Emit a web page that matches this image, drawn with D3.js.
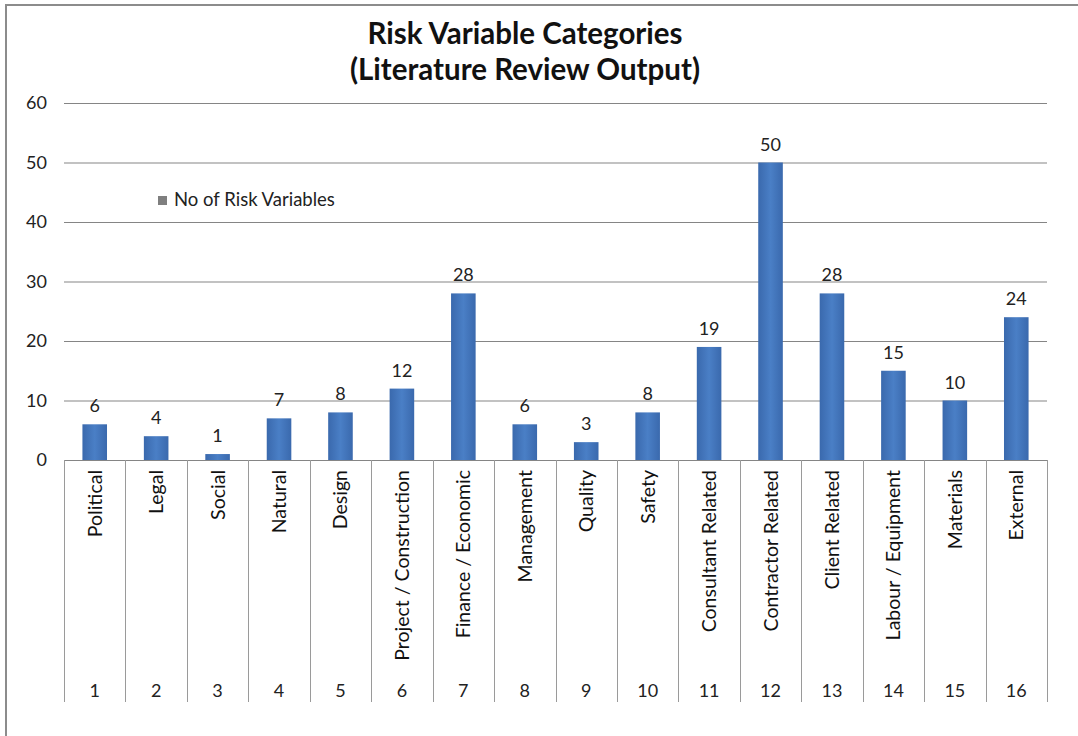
<!DOCTYPE html>
<html><head><meta charset="utf-8">
<script src="https://cdn.jsdelivr.net/npm/d3@7"></script>
<style>body{margin:0;background:#fff;} svg{display:block;}</style>
</head><body>
<svg id="c" width="1078" height="736"></svg>
<script>
const categories = ["Political","Legal","Social","Natural","Design","Project / Construction","Finance / Economic","Management","Quality","Safety","Consultant Related","Contractor Related","Client Related","Labour / Equipment","Materials","External"];
const indices = ["1","2","3","4","5","6","7","8","9","10","11","12","13","14","15","16"];
const values = [6,4,1,7,8,12,28,6,3,8,19,50,28,15,10,24];
const yTicks = [0,10,20,30,40,50,60];
const seriesName = "No of Risk Variables";
const titleLines = ["Risk Variable Categories","(Literature Review Output)"];

const font = "Lato, 'Open Sans', sans-serif";
const svg = d3.select("#c");
const L = 64, R = 1047, T = 103, B = 460, axisBottom = 702;

svg.append("rect").attr("x",6).attr("y",5).attr("width",1080).attr("height",740)
  .attr("fill","#fff").attr("stroke","#8c8c8c").attr("stroke-width",2);

const x = d3.scaleBand().domain(indices).range([L,R]).paddingInner(0.6).paddingOuter(0.3);
const xb = d3.scaleBand().domain(indices).range([L,R]);
const y = d3.scaleLinear().domain([0,60]).range([B,T]);

// gridlines
svg.append("g").selectAll("line").data(yTicks).join("line")
  .attr("x1",L).attr("x2",R).attr("y1",d=>y(d)+0.5).attr("y2",d=>y(d)+0.5)
  .attr("stroke","#858585").attr("stroke-width",1);

// y labels
svg.append("g").selectAll("text").data(yTicks).join("text")
  .attr("x",47).attr("y",d=>y(d)).attr("dy","0.35em").attr("text-anchor","end")
  .attr("font-family",font).attr("font-size",18).attr("fill","#222").text(d=>d);

// column dividers
const bounds = indices.map(d=>xb(d)).concat([R]);
svg.append("g").selectAll("line").data(bounds).join("line")
  .attr("x1",d=>Math.round(d)+0.5).attr("x2",d=>Math.round(d)+0.5)
  .attr("y1",B).attr("y2",axisBottom).attr("stroke","#9a9a9a").attr("stroke-width",1);

// gradient
const defs = svg.append("defs");
const g = defs.append("linearGradient").attr("id","bg").attr("x1","0").attr("x2","1").attr("y1","0").attr("y2","0");
g.append("stop").attr("offset","0").attr("stop-color","#3a69ad");
g.append("stop").attr("offset","0.5").attr("stop-color","#4a7fc6");
g.append("stop").attr("offset","1").attr("stop-color","#3a69ad");

// bars
svg.append("g").selectAll("rect").data(values).join("rect")
  .attr("x",(d,i)=>x(indices[i])).attr("width",x.bandwidth())
  .attr("y",d=>y(d)).attr("height",d=>B-y(d))
  .attr("fill","url(#bg)");

// value labels
svg.append("g").selectAll("text").data(values).join("text")
  .attr("x",(d,i)=>x(indices[i])+x.bandwidth()/2).attr("y",d=>y(d)-12)
  .attr("text-anchor","middle").attr("font-family",font).attr("font-size",18).attr("fill","#222").text(d=>d);

// category labels
svg.append("g").selectAll("text").data(categories).join("text")
  .attr("transform",(d,i)=>`translate(${xb(indices[i])+xb.bandwidth()/2+7},470) rotate(-90)`)
  .attr("text-anchor","end").attr("font-family",font).attr("font-size",19.5).attr("fill","#111").text(d=>d);

// index labels
svg.append("g").selectAll("text").data(indices).join("text")
  .attr("x",d=>xb(d)+xb.bandwidth()/2).attr("y",697)
  .attr("text-anchor","middle").attr("font-family",font).attr("font-size",18).attr("fill","#222").text(d=>d);

// legend
svg.append("rect").attr("x",158).attr("y",196).attr("width",9).attr("height",9).attr("fill","#7f7f7f");
svg.append("text").attr("x",174).attr("y",200).attr("dy","0.35em").attr("font-family",font)
  .attr("font-size",18.5).attr("fill","#222").text(seriesName);

// title
svg.append("g").selectAll("text").data(titleLines).join("text")
  .attr("x",525).attr("y",(d,i)=>44+i*36).attr("text-anchor","middle")
  .attr("font-family",font).attr("font-weight","bold").attr("font-size",29.5).attr("fill","#111").text(d=>d);
</script>
</body></html>
